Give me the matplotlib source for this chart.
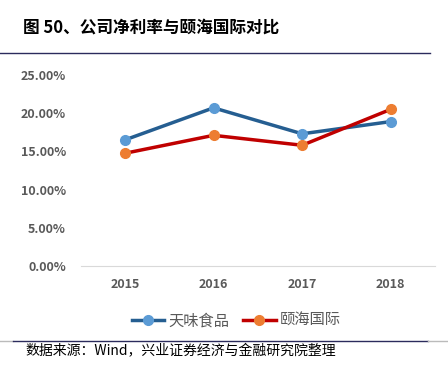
import matplotlib.pyplot as plt
from matplotlib.ticker import PercentFormatter
from matplotlib.lines import Line2D

plt.rcParams['font.family'] = ['Noto Sans CJK SC', 'DejaVu Sans']

years = ['2015', '2016', '2017', '2018']
tianwei = [0.165, 0.207, 0.173, 0.189]
yihai = [0.1475, 0.171, 0.158, 0.205]

fig = plt.figure(figsize=(4.48, 3.76), dpi=100)
ax = fig.add_axes([0.180, 0.2926, 0.791, 0.508])

x = range(len(years))
ax.plot(x, tianwei, color='#255E91', lw=2.5, marker='o', ms=7,
        mfc='#5B9BD5', mec='#5B9BD5', label='天味食品')
ax.plot(x, yihai, color='#C00000', lw=2.5, marker='o', ms=7,
        mfc='#ED7D31', mec='#ED7D31', label='颐海国际')

ax.set_xlim(-0.5, 3.5)
ax.set_ylim(0, 0.25)
ax.set_yticks([0, 0.05, 0.10, 0.15, 0.20, 0.25])
ax.yaxis.set_major_formatter(PercentFormatter(1.0, decimals=2))
ax.set_xticks(list(x))
ax.set_xticklabels(years)
for s in ['top', 'right', 'left']:
    ax.spines[s].set_visible(False)
ax.spines['bottom'].set_color('#D9D9D9')
ax.tick_params(length=0, labelsize=9, labelcolor='#595959')
ax.tick_params(axis='y', pad=10.5)
ax.tick_params(axis='x', pad=9)
for lab in ax.get_xticklabels() + ax.get_yticklabels():
    lab.set_fontweight('bold')

ax.legend(loc='upper center', bbox_to_anchor=(0.44, -0.17), ncol=2, frameon=False,
          fontsize=11, labelcolor='#595959', handlelength=2.1, columnspacing=0.9,
          handletextpad=0.3)

fig.text(0.051, 0.928, '图 50、公司净利率与颐海国际对比', fontsize=12, fontweight='bold',
         va='center', ha='left')
fig.add_artist(Line2D([0, 0.96], [0.859, 0.859], color='#2B2B5C', lw=1))
fig.add_artist(Line2D([0, 0.03], [0.093, 0.093], color='#BBBBBB', lw=1))
fig.add_artist(Line2D([0.03, 0.955], [0.093, 0.093], color='#2B2B5C', lw=1))
fig.add_artist(Line2D([0.955, 1.0], [0.093, 0.093], color='#BBBBBB', lw=1))
fig.text(0.056, 0.067, '数据来源：Wind，兴业证券经济与金融研究院整理', fontsize=10,
         va='center', ha='left')

fig.savefig('out.png', dpi=100)
